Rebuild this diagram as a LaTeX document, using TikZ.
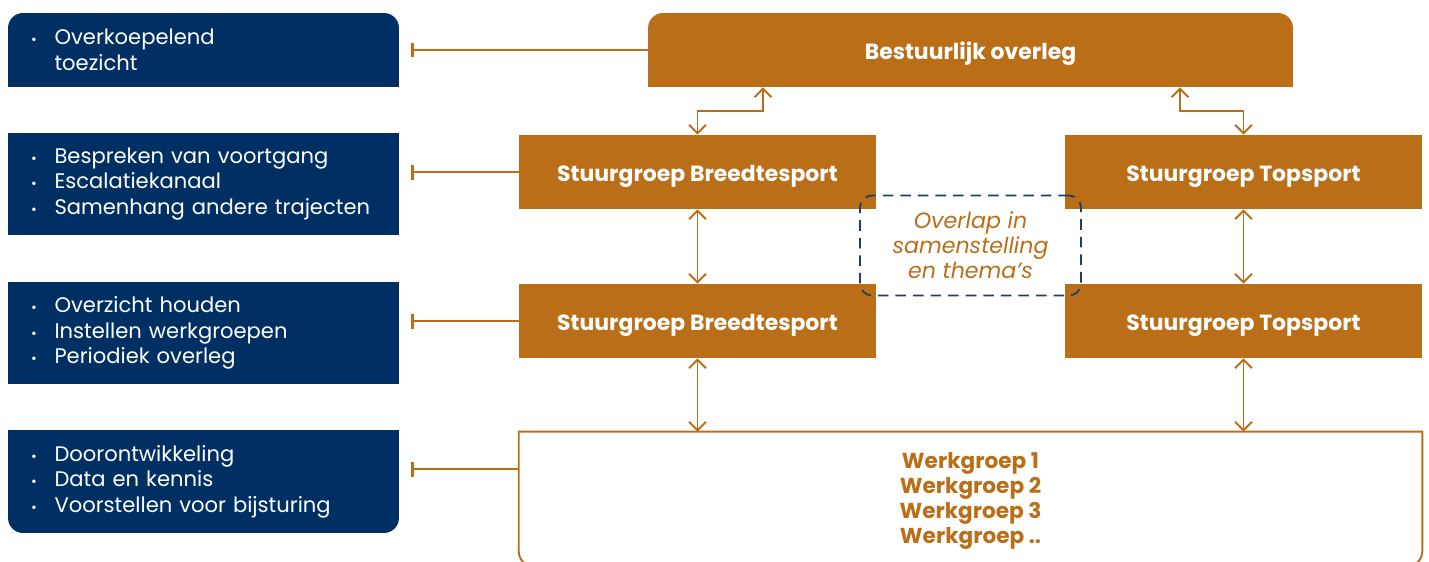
\documentclass[tikz,border=0pt]{standalone}
\usepackage{fontspec}
\setmainfont{Poppins}
\usepackage{xcolor}
\definecolor{ocnavy}{RGB}{0,48,99}
\definecolor{ocorange}{RGB}{186,110,24}
\definecolor{ocdash}{RGB}{31,61,102}
\usetikzlibrary{arrows.meta, positioning, calc, backgrounds}

\newcommand{\bl}[1]{\makebox[0.47cm][l]{\footnotesize\textbullet}#1}
\newcommand{\nb}{\hspace*{0.47cm}}

\tikzset{
  navybox/.style={fill=ocnavy, text=white, minimum width=7.82cm, text width=6.9cm,
    inner xsep=0.44cm, align=left, font=\fontsize{12}{14.6}\selectfont},
  orangebox/.style={fill=ocorange, text=white, minimum height=1.48cm,
    text height=14pt, text depth=3pt,
    font=\bfseries\fontsize{12.5}{14.2}\selectfont},
  link/.style={ocorange, line width=1.1pt, {Bar[width=0.3cm,line width=1.6pt]}-},
  dbl/.style={ocorange, line width=1.1pt,
    {Straight Barb[length=0.17cm,width=0.34cm,line width=1.1pt]}-{Straight Barb[length=0.17cm,width=0.34cm,line width=1.1pt]}},
}

\begin{document}
\begin{tikzpicture}[x=0.02cm, y=-0.02cm]
  \useasboundingbox (0,0) rectangle (1429,561);

  % --- Left column: tasks ---
  \node[navybox, rounded corners=0.3cm, minimum height=1.48cm] (l1) at (203.5,50)
    {\bl{Overkoepelend}\\\nb toezicht};
  \node[navybox, minimum height=2.04cm] (l2) at (203.5,184)
    {\bl{Bespreken van voortgang}\\\bl{Escalatiekanaal}\\\bl{Samenhang andere trajecten}};
  \node[navybox, minimum height=2.04cm] (l3) at (203.5,333)
    {\bl{Overzicht houden}\\\bl{Instellen werkgroepen}\\\bl{Periodiek overleg}};
  \node[navybox, rounded corners=0.3cm, minimum height=2.06cm] (l4) at (203.5,481.5)
    {\bl{Doorontwikkeling}\\\bl{Data en kennis}\\\bl{Voorstellen voor bijsturing}};

  % --- Right part: structure ---
  \node[orangebox, rounded corners=0.3cm, minimum width=12.9cm] (bo) at (970.5,50) {Bestuurlijk overleg};
  \node[orangebox, minimum width=7.14cm] (sb1) at (697.5,172) {Stuurgroep Breedtesport};
  \node[orangebox, minimum width=7.14cm] (st1) at (1243.5,172) {Stuurgroep Topsport};
  \node[orangebox, minimum width=7.14cm] (sb2) at (697.5,321) {Stuurgroep Breedtesport};
  \node[orangebox, minimum width=7.14cm] (st2) at (1243.5,321) {Stuurgroep Topsport};
  \node[minimum width=18.06cm, minimum height=2.68cm] (wg) at (970.5,499) {};
  \node[text=ocorange, align=center, font=\bfseries\fontsize{12.3}{14.4}\selectfont]
    (wgt) at ([yshift=-0.04cm]wg.center)
    {Werkgroep 1\\Werkgroep 2\\Werkgroep 3\\Werkgroep ..};
  \node[draw=ocdash, line width=1pt, dash pattern=on 6pt off 4pt, rounded corners=0.24cm,
    minimum width=4.42cm, minimum height=2.0cm, text=ocorange, align=center,
    font=\itshape\fontsize{12.6}{14.2}\selectfont] (ov) at (970.5,245.5)
    {Overlap in\\samenstelling\\en thema's};

  % square off corners
  \begin{scope}[on background layer]
    \fill[ocnavy] (l1.south west) rectangle (l1.east);
    \fill[ocnavy] (l4.north west) rectangle (l4.east);
    \fill[ocorange] (bo.south west) rectangle (bo.east);
  \end{scope}
  \draw[ocorange, line width=1.1pt] (wg.north west) -- (wg.north east)
    -- ([yshift=0.3cm]wg.south east) arc[start angle=0, end angle=-90, radius=0.3cm]
    -- ([xshift=0.3cm]wg.south west) arc[start angle=270, end angle=180, radius=0.3cm] -- cycle;

  % --- Links to the left column ---
  \coordinate (c1) at (411,50);
  \coordinate (c2) at (411,172);
  \coordinate (c3) at (411,321);
  \coordinate (c4) at (411,469);
  \draw[link] (c1) -- (bo.west |- c1);
  \draw[link] (c2) -- (sb1.west |- c2);
  \draw[link] (c3) -- (sb2.west |- c3);
  \draw[link] (c4) -- (wg.west |- c4);

  % --- Arrows ---
  \coordinate (kl) at (763,0);
  \coordinate (kr) at (1180,0);
  \draw[dbl] (sb1.north) -- ++(0,-24) -| (bo.south -| kl);
  \draw[dbl] (st1.north) -- ++(0,-24) -| (bo.south -| kr);
  \draw[dbl] (sb1.south) -- (sb2.north);
  \draw[dbl] (st1.south) -- (st2.north);
  \draw[dbl] (sb2.south) -- (sb2.south |- wg.north);
  \draw[dbl] (st2.south) -- (st2.south |- wg.north);
\end{tikzpicture}
\end{document}
